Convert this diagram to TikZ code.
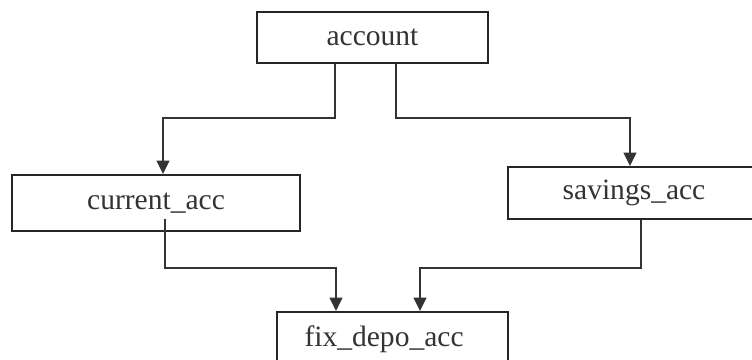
\documentclass[tikz,border=0pt]{standalone}
\usepackage{fontspec}
\setmainfont{Liberation Serif}
\usetikzlibrary{arrows.meta}

\begin{document}
\begin{tikzpicture}[x=0.025cm, y=-0.025cm,
  classbox/.style={draw=black!85, line width=1.4pt, text=black!80,
    font=\fontsize{21}{24}\selectfont, inner sep=0pt},
  link/.style={draw=black!80, line width=1.2pt},
  linkarrow/.style={link, -{Triangle[length=9.5pt, width=9pt]}}]
  \useasboundingbox (0,0) rectangle (752,360);

  % Classes
  \node[classbox, minimum width=5.775cm, minimum height=1.275cm] (account) at (372.5,37.5) {account};
  \node[classbox, minimum width=7.2cm, minimum height=1.4cm] (current) at (156,203) {current\_acc};
  \node[classbox, minimum width=6.3cm, minimum height=1.3cm] (savings) at (634,193) {savings\_acc};
  \node[classbox, minimum width=5.775cm, minimum height=1.35cm] (fixdepo) at (392.5,339) {\hspace*{-12pt}fix\_depo\_acc};

  % Bend points
  \coordinate (accL) at (163,118);
  \coordinate (accR) at (630,118);
  \coordinate (curB) at (336,268);
  \coordinate (savB) at (420,268);

  % Inheritance links
  \draw[linkarrow] (account.south -| 335,0) |- (accL) -- (current.north -| accL);
  \draw[linkarrow] (account.south -| 396,0) |- (accR) -- (savings.north -| accR);
  \draw[linkarrow] ([yshift=9pt]current.south -| 165,0) |- (curB) -- (fixdepo.north -| curB);
  \draw[linkarrow] (savings.south -| 641,0) |- (savB) -- (fixdepo.north -| savB);
\end{tikzpicture}
\end{document}
